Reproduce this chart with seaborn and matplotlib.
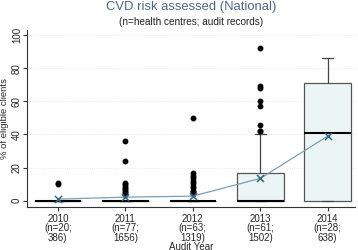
import matplotlib
matplotlib.use("Agg")
import matplotlib.pyplot as plt
import seaborn as sns
import pandas as pd

sns.set_theme(style="white")
plt.rcParams["font.family"] = ["Liberation Sans", "DejaVu Sans"]

# Audit data
years = ["2010", "2011", "2012", "2013", "2014"]
n_centres = [20, 77, 63, 61, 28]
n_records = [386, 1656, 1319, 1502, 638]
medians = [0, 0, 0, 0, 41]
q1 = [0, 0, 0, 0, 0]
q3 = [0, 0, 0, 16.5, 71]
whisker_lo = [0, 0, 0, 0, 0]
whisker_hi = [0, 0, 0, 40, 86]
outliers = [
    [10, 11],
    [36, 24, 11, 10, 9, 8, 7, 6, 5, 4, 3.5],
    [50, 16.5, 15, 13.5, 12, 10.5, 9, 7.5, 6, 5, 4],
    [92, 69, 68, 60, 57, 46, 42, 42],
    [],
]
means = [1, 2.2, 2.8, 13.5, 39]

tick_labels = [f"{y}\n(n={n};\n{r})" for y, n, r in zip(years, n_centres, n_records)]

stats = []
for i in range(len(years)):
    stats.append(dict(med=medians[i], q1=q1[i], q3=q3[i], whislo=whisker_lo[i],
                      whishi=whisker_hi[i], fliers=outliers[i], label=tick_labels[i]))

fig = plt.figure(figsize=(3.58, 2.5), dpi=100)
ax = fig.add_axes([0.0768, 0.173, 0.914, 0.707])

ax.bxp(stats, positions=range(len(years)), widths=0.69, patch_artist=True,
       boxprops=dict(facecolor="#ecf5f5", edgecolor="#555555", linewidth=0.9),
       medianprops=dict(color="black", linewidth=1.5),
       whiskerprops=dict(color="#444444", linewidth=0.9),
       capprops=dict(color="#444444", linewidth=0.9),
       capwidths=0.17,
       flierprops=dict(marker="o", markerfacecolor="black", markeredgecolor="black",
                       markersize=3.2))

mean_df = pd.DataFrame({"pos": range(len(years)), "mean": means})
sns.lineplot(data=mean_df, x="pos", y="mean", ax=ax, color="#7c9fb6", linewidth=0.9)
sns.scatterplot(data=mean_df, x="pos", y="mean", ax=ax, marker="x", color="#356885",
                s=26, linewidth=1.1, zorder=5)

ax.set_xlim(-0.45, 4.4)
ax.set_ylim(-3.6, 103)
ax.set_yticks([0, 20, 40, 60, 80, 100])
ax.set_xticks(range(len(years)))
ax.set_xticklabels(tick_labels, fontsize=7, linespacing=0.95)
for lab in ax.get_yticklabels():
    lab.set_rotation(90)
    lab.set_va("center")
    lab.set_fontsize(7)
ax.tick_params(axis="x", length=3, width=0.8, color="#333333", pad=2, bottom=True)
ax.tick_params(axis="y", length=3, width=0.8, color="#333333", pad=1, left=True)
ax.yaxis.grid(True, linestyle=(0, (1, 1.5)), color="#dde8f0", linewidth=0.6)
ax.set_axisbelow(True)
for side in ["top", "right"]:
    ax.spines[side].set_visible(False)
for side in ["left", "bottom"]:
    ax.spines[side].set_color("#333333")
    ax.spines[side].set_linewidth(0.8)

ax.set_xlabel("Audit Year", fontsize=7, labelpad=-1)
ax.set_ylabel("% of eligible clients", fontsize=6.8)
ax.yaxis.set_label_coords(-0.055, 0.5)

fig.text(0.535, 0.972, "CVD risk assessed (National)", ha="center", va="center",
         fontsize=9.4, color="#4a6788")
fig.text(0.535, 0.912, "(n=health centres; audit records)", ha="center", va="center",
         fontsize=7.2, color="#222222")

fig.savefig("out.png", dpi=100)
